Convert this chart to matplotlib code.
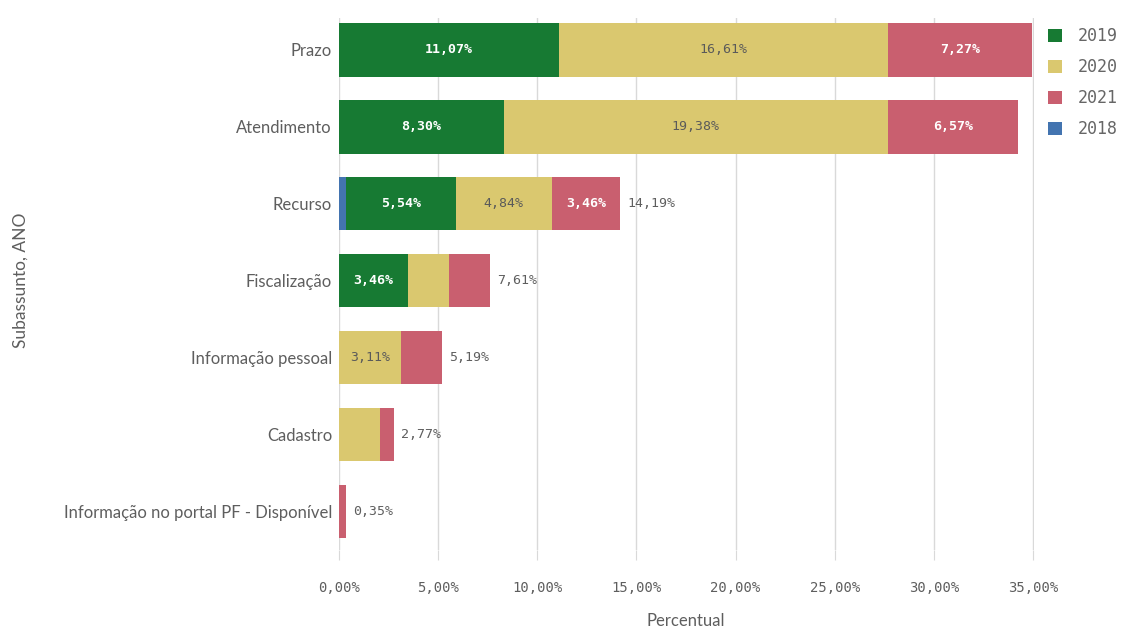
import matplotlib
matplotlib.use("Agg")
import matplotlib.pyplot as plt
from matplotlib.patches import Patch
import numpy as np

# Subjects (top to bottom) and yearly shares in percent
categories = [
    "Prazo",
    "Atendimento",
    "Recurso",
    "Fiscalização",
    "Informação pessoal",
    "Cadastro",
    "Informação no portal PF - Disponível",
]
years = ["2018", "2019", "2020", "2021"]
v2018 = [0.00, 0.00, 0.35, 0.00, 0.00, 0.00, 0.00]
v2019 = [11.07, 8.30, 5.54, 3.46, 0.00, 0.00, 0.00]
v2020 = [16.61, 19.38, 4.84, 2.08, 3.11, 2.08, 0.00]
v2021 = [7.27, 6.57, 3.46, 2.07, 2.08, 0.69, 0.35]
x_ticks = [0, 5, 10, 15, 20, 25, 30, 35]
legend_order = ["2019", "2020", "2021", "2018"]

colors = {
    "2018": "#4374b0",
    "2019": "#177a33",
    "2020": "#dac86f",
    "2021": "#c95f6f",
}
label_colors = {"2018": "white", "2019": "white", "2020": "#5a5a5a", "2021": "white"}
label_weight = {"2018": "bold", "2019": "bold", "2020": "normal", "2021": "bold"}

TEXT = "#5e5e5e"
GRID = "#d9d9d9"
MONO = "DejaVu Sans Mono"
SANS = "Lato"


def fmt(v):
    return f"{v:.2f}".replace(".", ",") + "%"


fig = plt.figure(figsize=(11.22, 6.30), dpi=100)
ax = fig.add_axes([339 / 1122, 1 - 550 / 630, (1034 - 339) / 1122, (550 - 18) / 630])

series = {"2018": v2018, "2019": v2019, "2020": v2020, "2021": v2021}
y = np.arange(len(categories))
left = np.zeros(len(categories))
bar_h = 0.70

for yr in years:
    vals = np.array(series[yr])
    ax.barh(y, vals, left=left, height=bar_h, color=colors[yr], zorder=3)
    for i, v in enumerate(vals):
        if v >= 3.0:
            ax.text(left[i] + v / 2, y[i], fmt(v), ha="center", va="center",
                    color=label_colors[yr], fontsize=9.5, family=MONO,
                    fontweight=label_weight[yr], zorder=4)
    left = left + vals

totals = left
for i, t in enumerate(totals):
    if t < 30:
        ax.text(t + 0.35, y[i], fmt(t), ha="left", va="center", color=TEXT,
                fontsize=9.5, family=MONO, zorder=4)

ax.set_xlim(0, 35.05)
ax.set_ylim(6.5, -0.41)
ax.set_yticks(y)
ax.set_yticklabels(categories, family=SANS, fontsize=12, color=TEXT)
ax.set_xticks(x_ticks)
ax.set_xticklabels([fmt(t) for t in x_ticks], family=MONO, fontsize=10, color=TEXT)

ax.grid(axis="x", color=GRID, linewidth=1, zorder=0)
for s in ax.spines.values():
    s.set_visible(False)
ax.tick_params(axis="y", length=0, pad=5)
ax.tick_params(axis="x", length=7, color=GRID, pad=15)

fig.text(686 / 1122, 1 - 621 / 630, "Percentual", ha="center", va="center",
         family=SANS, fontsize=12, color=TEXT)
fig.text(21 / 1122, 1 - 280 / 630, "Subassunto, ANO", ha="center", va="center",
         rotation=90, family=SANS, fontsize=12.5, color=TEXT)

handles = [Patch(facecolor=colors[yr], edgecolor="none") for yr in legend_order]
leg = fig.legend(handles, legend_order, loc="upper left",
                 bbox_to_anchor=(1048 / 1122, 1 - 27 / 630), frameon=False,
                 handlelength=0.85, handleheight=0.85, handletextpad=0.95,
                 labelspacing=0.78, borderaxespad=0, borderpad=0,
                 prop={"family": MONO, "size": 12})
for t in leg.get_texts():
    t.set_color("#666666")

fig.savefig("out.png", dpi=100, facecolor="white")
